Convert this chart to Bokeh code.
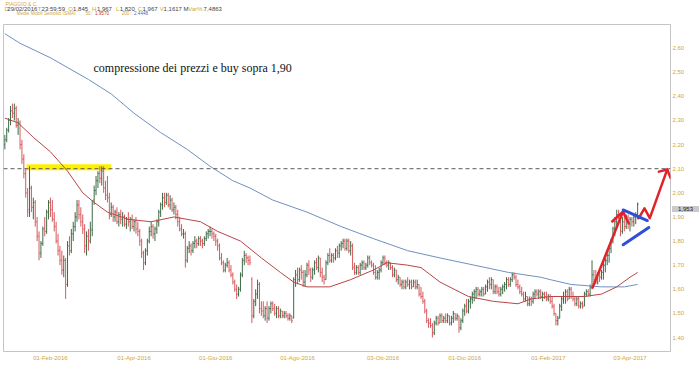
from bokeh.plotting import figure
from bokeh.layouts import column
from bokeh.models import Range1d, FixedTicker, Span, Label, ColumnDataSource
from bokeh.embed import file_html
from bokeh.resources import INLINE

# ---------------- data (daily OHLC) ----------------
opens = [
    2.20, 2.22, 2.26, 2.30, 2.34, 2.33, 2.35, 2.28, 2.29, 2.20,
    2.14, 2.08, 2.00, 1.92, 2.02, 1.94, 1.96, 1.88, 1.82, 1.75,
    1.79, 1.85, 1.84, 1.92, 1.96, 1.93, 1.89, 1.86, 1.80, 1.76,
    1.72, 1.68, 1.72, 1.62, 1.78, 1.76, 1.83, 1.86, 1.90, 1.95,
    1.91, 1.88, 1.85, 1.78, 1.82, 1.80, 1.845, 1.97, 2.01, 2.05,
    2.08, 2.06, 2.09, 2.02, 1.99, 1.98, 1.91, 1.94, 1.90, 1.92,
    1.88, 1.91, 1.89, 1.90, 1.87, 1.89, 1.88, 1.89, 1.86, 1.88,
    1.85, 1.84, 1.80, 1.75, 1.71, 1.76, 1.80, 1.84, 1.86, 1.83,
    1.85, 1.88, 1.92, 1.95, 1.98, 1.96, 1.99, 1.95, 1.97, 1.93,
    1.94, 1.91, 1.88, 1.85, 1.83, 1.83, 1.72, 1.77, 1.78, 1.76,
    1.79, 1.80, 1.79, 1.81, 1.80, 1.79, 1.81, 1.83, 1.84, 1.84,
    1.83, 1.82, 1.80, 1.78, 1.73, 1.71, 1.68, 1.70, 1.71, 1.68,
    1.66, 1.63, 1.60, 1.58, 1.60, 1.66, 1.72, 1.74, 1.73, 1.72,
    1.64, 1.49, 1.55, 1.58, 1.62, 1.52, 1.51, 1.49, 1.52, 1.48,
    1.52, 1.54, 1.52, 1.50, 1.52, 1.49, 1.51, 1.49, 1.50, 1.49,
    1.48, 1.49, 1.48, 1.64, 1.66, 1.64, 1.68, 1.67, 1.63, 1.66,
    1.70, 1.68, 1.65, 1.68, 1.71, 1.69, 1.73, 1.67, 1.65, 1.64,
    1.71, 1.74, 1.72, 1.74, 1.73, 1.76, 1.75, 1.78, 1.79, 1.80,
    1.77, 1.80, 1.76, 1.78, 1.69, 1.67, 1.69, 1.67, 1.70, 1.71,
    1.69, 1.70, 1.73, 1.71, 1.70, 1.67, 1.65, 1.67, 1.68, 1.71,
    1.73, 1.71, 1.70, 1.71, 1.69, 1.66, 1.68, 1.64, 1.65, 1.62,
    1.63, 1.61, 1.63, 1.62, 1.63, 1.61, 1.63, 1.61, 1.62, 1.58,
    1.57, 1.55, 1.51, 1.47, 1.46, 1.45, 1.42, 1.46, 1.48, 1.46,
    1.49, 1.47, 1.48, 1.47, 1.49, 1.46, 1.48, 1.50, 1.48, 1.49,
    1.44, 1.47, 1.51, 1.53, 1.51, 1.55, 1.56, 1.58, 1.59, 1.60,
    1.58, 1.59, 1.60, 1.58, 1.61, 1.63, 1.62, 1.64, 1.59, 1.61,
    1.59, 1.58, 1.60, 1.61, 1.62, 1.64, 1.62, 1.64, 1.66, 1.65,
    1.62, 1.61, 1.59, 1.58, 1.56, 1.57, 1.54, 1.56, 1.55, 1.58,
    1.59, 1.58, 1.59, 1.57, 1.58, 1.57, 1.56, 1.57, 1.55, 1.53,
    1.50, 1.47, 1.48, 1.53, 1.56, 1.57, 1.59, 1.56, 1.60, 1.57,
    1.56, 1.54, 1.56, 1.53, 1.54, 1.53, 1.58, 1.59, 1.58, 1.61,
    1.66, 1.64, 1.63, 1.66, 1.65, 1.67, 1.70, 1.72, 1.74, 1.77,
    1.80, 1.85, 1.88, 1.91, 1.90, 1.84, 1.88, 1.86, 1.90, 1.87,
    1.89, 1.88, 1.90, 1.91,
]
highs = [
    2.24, 2.27, 2.31, 2.36, 2.37, 2.37, 2.36, 2.31, 2.30, 2.22,
    2.16, 2.10, 2.02, 2.11, 2.03, 1.98, 1.97, 1.90, 1.84, 1.80,
    1.86, 1.90, 1.93, 1.97, 1.98, 1.97, 1.92, 1.88, 1.83, 1.78,
    1.76, 1.74, 1.73, 1.80, 1.82, 1.85, 1.88, 1.92, 1.97, 1.97,
    1.94, 1.91, 1.87, 1.84, 1.85, 1.88, 1.967, 2.03, 2.07, 2.09,
    2.11, 2.11, 2.11, 2.05, 2.07, 2.00, 1.96, 1.95, 1.93, 1.94,
    1.92, 1.93, 1.92, 1.91, 1.90, 1.92, 1.90, 1.91, 1.89, 1.90,
    1.88, 1.85, 1.81, 1.76, 1.77, 1.81, 1.86, 1.88, 1.87, 1.86,
    1.89, 1.93, 1.96, 2.00, 2.00, 2.00, 2.00, 1.99, 1.98, 1.96,
    1.95, 1.93, 1.90, 1.87, 1.85, 1.84, 1.78, 1.80, 1.79, 1.80,
    1.82, 1.81, 1.82, 1.82, 1.81, 1.82, 1.84, 1.85, 1.86, 1.85,
    1.84, 1.83, 1.81, 1.79, 1.75, 1.72, 1.71, 1.73, 1.72, 1.70,
    1.67, 1.64, 1.62, 1.61, 1.67, 1.73, 1.76, 1.75, 1.74, 1.74,
    1.65, 1.56, 1.60, 1.64, 1.63, 1.55, 1.55, 1.53, 1.55, 1.53,
    1.55, 1.55, 1.54, 1.53, 1.53, 1.52, 1.51, 1.51, 1.51, 1.50,
    1.50, 1.49, 1.65, 1.68, 1.69, 1.69, 1.70, 1.68, 1.68, 1.71,
    1.72, 1.69, 1.69, 1.72, 1.73, 1.74, 1.73, 1.69, 1.66, 1.72,
    1.75, 1.77, 1.75, 1.75, 1.77, 1.78, 1.79, 1.80, 1.81, 1.81,
    1.81, 1.81, 1.80, 1.79, 1.71, 1.70, 1.70, 1.71, 1.72, 1.72,
    1.71, 1.74, 1.74, 1.72, 1.71, 1.70, 1.68, 1.69, 1.72, 1.74,
    1.74, 1.72, 1.72, 1.71, 1.70, 1.69, 1.68, 1.66, 1.65, 1.64,
    1.64, 1.64, 1.65, 1.64, 1.64, 1.64, 1.64, 1.64, 1.62, 1.61,
    1.59, 1.56, 1.52, 1.48, 1.48, 1.46, 1.47, 1.49, 1.49, 1.50,
    1.50, 1.49, 1.50, 1.50, 1.49, 1.49, 1.51, 1.50, 1.50, 1.49,
    1.48, 1.52, 1.54, 1.56, 1.56, 1.57, 1.59, 1.60, 1.61, 1.61,
    1.60, 1.61, 1.61, 1.62, 1.64, 1.65, 1.65, 1.64, 1.62, 1.62,
    1.61, 1.61, 1.62, 1.63, 1.65, 1.65, 1.65, 1.67, 1.67, 1.66,
    1.64, 1.62, 1.61, 1.59, 1.59, 1.57, 1.57, 1.57, 1.59, 1.60,
    1.60, 1.60, 1.60, 1.59, 1.59, 1.59, 1.58, 1.58, 1.57, 1.54,
    1.50, 1.49, 1.54, 1.57, 1.59, 1.60, 1.60, 1.61, 1.61, 1.59,
    1.57, 1.57, 1.57, 1.55, 1.55, 1.59, 1.60, 1.60, 1.62, 1.72,
    1.68, 1.68, 1.67, 1.68, 1.68, 1.71, 1.73, 1.75, 1.78, 1.81,
    1.86, 1.90, 1.93, 1.93, 1.91, 1.90, 1.92, 1.91, 1.91, 1.90,
    1.90, 1.91, 1.92, 1.96,
]
lows = [
    2.18, 2.21, 2.25, 2.28, 2.31, 2.30, 2.27, 2.24, 2.18, 2.12,
    2.06, 1.98, 1.90, 1.90, 1.92, 1.89, 1.86, 1.80, 1.72, 1.73,
    1.78, 1.82, 1.83, 1.89, 1.90, 1.88, 1.84, 1.79, 1.74, 1.70,
    1.66, 1.65, 1.56, 1.61, 1.74, 1.75, 1.80, 1.84, 1.88, 1.89,
    1.86, 1.83, 1.75, 1.74, 1.76, 1.79, 1.82, 1.95, 1.99, 2.02,
    2.04, 2.03, 2.00, 1.97, 1.96, 1.89, 1.90, 1.88, 1.88, 1.87,
    1.86, 1.87, 1.86, 1.86, 1.85, 1.86, 1.84, 1.85, 1.84, 1.83,
    1.82, 1.78, 1.73, 1.68, 1.70, 1.74, 1.79, 1.82, 1.81, 1.80,
    1.83, 1.86, 1.90, 1.93, 1.94, 1.95, 1.94, 1.93, 1.92, 1.91,
    1.89, 1.86, 1.84, 1.82, 1.81, 1.69, 1.71, 1.75, 1.74, 1.75,
    1.77, 1.77, 1.78, 1.78, 1.77, 1.78, 1.80, 1.81, 1.82, 1.81,
    1.80, 1.78, 1.76, 1.72, 1.70, 1.67, 1.67, 1.69, 1.67, 1.65,
    1.62, 1.59, 1.56, 1.57, 1.59, 1.65, 1.70, 1.71, 1.70, 1.70,
    1.46, 1.48, 1.53, 1.56, 1.50, 1.49, 1.48, 1.47, 1.46, 1.47,
    1.50, 1.51, 1.49, 1.48, 1.48, 1.48, 1.48, 1.48, 1.48, 1.47,
    1.47, 1.46, 1.48, 1.61, 1.62, 1.63, 1.64, 1.61, 1.61, 1.65,
    1.66, 1.63, 1.64, 1.66, 1.68, 1.67, 1.65, 1.63, 1.62, 1.64,
    1.70, 1.71, 1.71, 1.71, 1.72, 1.73, 1.73, 1.76, 1.77, 1.76,
    1.76, 1.75, 1.74, 1.68, 1.66, 1.66, 1.66, 1.66, 1.68, 1.68,
    1.68, 1.69, 1.70, 1.69, 1.66, 1.64, 1.64, 1.64, 1.67, 1.70,
    1.70, 1.69, 1.68, 1.68, 1.65, 1.65, 1.63, 1.62, 1.61, 1.60,
    1.60, 1.60, 1.61, 1.60, 1.60, 1.61, 1.60, 1.60, 1.57, 1.56,
    1.54, 1.50, 1.46, 1.44, 1.44, 1.40, 1.41, 1.45, 1.45, 1.46,
    1.46, 1.46, 1.46, 1.46, 1.45, 1.45, 1.46, 1.47, 1.47, 1.42,
    1.43, 1.46, 1.49, 1.50, 1.50, 1.52, 1.54, 1.55, 1.56, 1.57,
    1.57, 1.57, 1.57, 1.58, 1.59, 1.60, 1.60, 1.58, 1.58, 1.58,
    1.57, 1.57, 1.58, 1.59, 1.60, 1.61, 1.61, 1.63, 1.64, 1.61,
    1.60, 1.58, 1.57, 1.55, 1.55, 1.53, 1.53, 1.53, 1.54, 1.56,
    1.57, 1.56, 1.56, 1.55, 1.56, 1.55, 1.55, 1.54, 1.52, 1.49,
    1.45, 1.45, 1.48, 1.51, 1.54, 1.54, 1.55, 1.56, 1.56, 1.55,
    1.53, 1.53, 1.52, 1.52, 1.52, 1.53, 1.57, 1.57, 1.57, 1.60,
    1.63, 1.62, 1.62, 1.63, 1.64, 1.64, 1.67, 1.70, 1.71, 1.75,
    1.79, 1.82, 1.85, 1.89, 1.82, 1.83, 1.84, 1.85, 1.85, 1.84,
    1.86, 1.86, 1.87, 1.89,
]
closes = [
    2.22, 2.26, 2.30, 2.34, 2.33, 2.35, 2.28, 2.29, 2.20, 2.14,
    2.08, 2.00, 1.93, 2.02, 1.94, 1.96, 1.88, 1.82, 1.75, 1.79,
    1.85, 1.84, 1.92, 1.96, 1.93, 1.89, 1.86, 1.80, 1.76, 1.72,
    1.68, 1.72, 1.62, 1.78, 1.76, 1.83, 1.86, 1.90, 1.95, 1.91,
    1.88, 1.85, 1.78, 1.82, 1.80, 1.85, 1.967, 2.01, 2.05, 2.08,
    2.06, 2.09, 2.02, 1.99, 1.98, 1.91, 1.94, 1.90, 1.92, 1.88,
    1.91, 1.89, 1.90, 1.87, 1.89, 1.88, 1.89, 1.86, 1.88, 1.85,
    1.84, 1.80, 1.75, 1.71, 1.76, 1.80, 1.84, 1.86, 1.83, 1.85,
    1.88, 1.92, 1.95, 1.98, 1.96, 1.99, 1.95, 1.97, 1.93, 1.94,
    1.91, 1.88, 1.85, 1.83, 1.83, 1.72, 1.77, 1.78, 1.76, 1.79,
    1.80, 1.79, 1.81, 1.80, 1.79, 1.81, 1.83, 1.84, 1.84, 1.83,
    1.82, 1.80, 1.78, 1.73, 1.71, 1.68, 1.70, 1.71, 1.68, 1.66,
    1.63, 1.60, 1.58, 1.60, 1.66, 1.72, 1.74, 1.73, 1.72, 1.71,
    1.49, 1.55, 1.58, 1.62, 1.52, 1.51, 1.49, 1.52, 1.48, 1.52,
    1.54, 1.52, 1.50, 1.52, 1.49, 1.51, 1.49, 1.50, 1.49, 1.48,
    1.49, 1.47, 1.64, 1.66, 1.64, 1.68, 1.67, 1.63, 1.66, 1.70,
    1.68, 1.65, 1.68, 1.71, 1.69, 1.73, 1.67, 1.65, 1.64, 1.71,
    1.74, 1.72, 1.74, 1.73, 1.76, 1.75, 1.78, 1.79, 1.80, 1.77,
    1.80, 1.76, 1.78, 1.69, 1.67, 1.69, 1.67, 1.70, 1.71, 1.69,
    1.70, 1.73, 1.71, 1.70, 1.67, 1.65, 1.67, 1.68, 1.71, 1.73,
    1.71, 1.70, 1.71, 1.69, 1.66, 1.68, 1.64, 1.65, 1.62, 1.63,
    1.61, 1.63, 1.62, 1.63, 1.61, 1.63, 1.61, 1.62, 1.58, 1.57,
    1.55, 1.51, 1.47, 1.46, 1.45, 1.42, 1.46, 1.48, 1.46, 1.49,
    1.47, 1.48, 1.47, 1.49, 1.46, 1.48, 1.50, 1.48, 1.49, 1.44,
    1.47, 1.51, 1.53, 1.51, 1.55, 1.56, 1.58, 1.59, 1.60, 1.58,
    1.59, 1.60, 1.58, 1.61, 1.63, 1.62, 1.64, 1.59, 1.61, 1.59,
    1.58, 1.60, 1.61, 1.62, 1.64, 1.62, 1.64, 1.66, 1.65, 1.62,
    1.61, 1.59, 1.58, 1.56, 1.57, 1.54, 1.56, 1.55, 1.58, 1.59,
    1.58, 1.59, 1.57, 1.58, 1.57, 1.56, 1.57, 1.55, 1.53, 1.50,
    1.47, 1.48, 1.53, 1.56, 1.57, 1.59, 1.56, 1.60, 1.57, 1.56,
    1.54, 1.56, 1.53, 1.54, 1.53, 1.58, 1.59, 1.58, 1.61, 1.66,
    1.64, 1.63, 1.66, 1.65, 1.67, 1.70, 1.72, 1.74, 1.77, 1.80,
    1.85, 1.88, 1.91, 1.90, 1.84, 1.88, 1.86, 1.90, 1.87, 1.89,
    1.88, 1.90, 1.91, 1.953,
]

# moving averages (sampled along the drawn curves: bar index, value)
sma50_idx = [0, 7, 15, 24, 33, 41, 47, 54, 65, 77, 89, 103, 112, 124, 135, 145, 152, 159,
             171, 182, 194, 201, 212, 219, 229, 244, 257, 270, 277, 287, 305, 314, 322, 329, 333]
sma50_val = [2.31, 2.29, 2.23, 2.17, 2.09, 2.00, 1.96, 1.92, 1.89, 1.88, 1.90, 1.88, 1.84, 1.80,
             1.73, 1.67, 1.63, 1.61, 1.61, 1.64, 1.68, 1.71, 1.70, 1.69, 1.63, 1.57, 1.55, 1.54,
             1.56, 1.57, 1.57, 1.58, 1.61, 1.65, 1.67]
sma200_idx = [0, 8, 24, 44, 56, 68, 82, 96, 108, 120, 129, 141, 159, 177, 194, 212, 229, 247,
              265, 282, 287, 298, 314, 326, 333]
sma200_val = [2.66, 2.62, 2.56, 2.47, 2.41, 2.33, 2.25, 2.18, 2.11, 2.05, 2.02, 1.97, 1.92, 1.86,
              1.81, 1.76, 1.73, 1.70, 1.67, 1.65, 1.64, 1.62, 1.61, 1.61, 1.62]

x_tick_idx = [24, 68, 111, 154, 199, 242, 286, 329]
x_tick_labels = ["01-Feb-2016", "01-Apr-2016", "01-Giu-2016", "01-Ago-2016",
                 "03-Ott-2016", "01-Dic-2016", "01-Feb-2017", "03-Apr-2017"]
y_ticks = [1.4, 1.5, 1.6, 1.7, 1.8, 1.9, 2.0, 2.1, 2.2, 2.3, 2.4, 2.5, 2.6]
y_tick_labels = ["1,40", "1,50", "1,60", "1,70", "1,80", "1,90", "2,00", "2,10",
                 "2,20", "2,30", "2,40", "2,50", "2,60"]

resistance_level = 2.10
last_price = 1.953
last_price_text = "1,953"
highlight_x = [11.4, 56.0]
highlight_y = [2.094, 2.119]
red_paths_x = [[309.3, 325.3], [319.6, 325.3, 328.3],
               [333.6, 336.6, 339.4, 348.6], [344.2, 348.6, 350.3]]
red_paths_y = [[1.607, 1.922], [1.881, 1.922, 1.874],
               [1.895, 1.936, 1.895, 2.097], [2.088, 2.097, 2.062]]
blue_paths_x = [[325.4, 338.1], [325.4, 338.9]]
blue_paths_y = [[1.929, 1.885], [1.785, 1.856]]

# ---------------- layout helpers ----------------
W, H = 700, 366
HEAD_H = 15
X_LO, X_HI = -0.7, 350.3
Y_LO, Y_HI = 1.342, 2.698
PAGE_L, PAGE_R, PAGE_T, PAGE_B = 3, 670, 24, 351


def dx(px):
    return X_LO + (px - PAGE_L) * (X_HI - X_LO) / (PAGE_R - PAGE_L)


def dy(py):
    return Y_HI - (py - PAGE_T) * (Y_HI - Y_LO) / (PAGE_B - PAGE_T)


UP = "#3d6b47"
DOWN = "#d8585c"
GOLD = "#cfa63a"
DARK = "#444444"

# ---------------- header strip (its own small figure) ----------------
head = figure(width=W, height=HEAD_H, output_backend="svg", toolbar_location=None,
              title=None, x_range=Range1d(0, W), y_range=Range1d(HEAD_H, 0),
              x_axis_type=None, y_axis_type=None, min_border=0,
              outline_line_color=None, background_fill_color="white",
              border_fill_color="white")
head.grid.visible = False
header = [
    ("PIAGGIO & C.", 2, 3.0, "5px", "#e0a23a"),
    ("D", 1, 8.3, "6px", GOLD), ("29/02/2016", 4, 8.3, "6px", DARK),
    ("T", 36, 8.3, "6px", GOLD), ("23:59:59", 40, 8.3, "6px", DARK),
    ("O", 68, 8.3, "6px", GOLD), ("1,845", 73, 8.3, "6px", DARK),
    ("H", 93, 8.3, "6px", GOLD), ("1,967", 98, 8.3, "6px", DARK),
    ("L", 118, 8.3, "6px", GOLD), ("1,820", 122, 8.3, "6px", DARK),
    ("C", 141, 8.3, "6px", GOLD), ("1,967", 146, 8.3, "6px", DARK),
    ("V", 164, 8.3, "6px", GOLD), ("1,1617 M", 168, 8.3, "6px", DARK),
    ("Var%", 194, 8.3, "6px", GOLD), ("7,4863", 210, 8.3, "6px", DARK),
    ("Medie Mobili Semplici (SMA)", 14, 12.8, "4.6px", GOLD),
    ("50", 86, 12.8, "4.6px", GOLD), (":", 92, 12.8, "4.6px", DARK),
    ("1,9570", 96, 12.8, "4.6px", "#c0392b"),
    ("200", 124, 12.8, "4.6px", GOLD), (":", 133, 12.8, "4.6px", DARK),
    ("2,4448", 137, 12.8, "4.6px", "#4a6fb5"),
]
for txt, hx, hy, fs, col in header:
    head.add_layout(Label(x=hx, y=hy, text=txt, text_font="Liberation Sans",
                          text_font_size=fs, text_color=col, text_align="left",
                          text_baseline="middle"))

# ---------------- main chart ----------------
p = figure(width=W, height=H - HEAD_H, output_backend="svg", toolbar_location=None,
           title=None, x_range=Range1d(X_LO, X_HI), y_range=Range1d(Y_LO, Y_HI),
           y_axis_location="right", min_border_left=PAGE_L, min_border_right=W - PAGE_R,
           min_border_top=PAGE_T - HEAD_H, min_border_bottom=H - PAGE_B,
           background_fill_color="white", border_fill_color="white",
           outline_line_color="#c4c4c4", outline_line_width=1)
p.grid.visible = False

# axes
p.yaxis.ticker = FixedTicker(ticks=y_ticks)
p.yaxis.major_label_overrides = dict(zip(y_ticks, y_tick_labels))
p.xaxis.ticker = FixedTicker(ticks=x_tick_idx)
p.xaxis.major_label_overrides = dict(zip(x_tick_idx, x_tick_labels))
for ax in (p.xaxis, p.yaxis):
    ax.axis_line_color = None
    ax.major_tick_line_color = None
    ax.minor_tick_line_color = None
    ax.major_tick_out = 0
    ax.major_tick_in = 0
    ax.minor_tick_out = 0
    ax.minor_tick_in = 0
    ax.major_label_text_color = GOLD
    ax.major_label_text_font = "Liberation Sans"
    ax.major_label_text_font_size = "6px"
p.yaxis.major_label_standoff = 2
p.xaxis.major_label_standoff = 3

# highlight box
p.quad(left=[highlight_x[0]], right=[highlight_x[1]], bottom=[highlight_y[0]],
       top=[highlight_y[1]], fill_color="#fff000", line_color=None)

# OHLC bars
idx = list(range(len(closes)))
src = ColumnDataSource(dict(
    x=idx,
    xl=[i - 0.45 for i in idx],
    xr=[i + 0.45 for i in idx],
    o=opens, h=highs, l=lows, c=closes,
    col=[UP if c >= o else DOWN for o, c in zip(opens, closes)],
))
p.segment(x0="x", y0="l", x1="x", y1="h", color="col", line_width=1, source=src)
p.segment(x0="xl", y0="o", x1="x", y1="o", color="col", line_width=1, source=src)
p.segment(x0="x", y0="c", x1="xr", y1="c", color="col", line_width=1, source=src)

# moving averages
p.line(sma200_idx, sma200_val, line_color="#7090c0", line_width=1)
p.line(sma50_idx, sma50_val, line_color="#b94545", line_width=1)

# resistance line
p.add_layout(Span(location=resistance_level, dimension="width", line_color="#5a5a5a",
                  line_dash="4 3", line_width=1))

# hand-drawn annotations
p.multi_line(red_paths_x, red_paths_y, line_color="#e0232a", line_width=2.5,
             line_cap="round", line_join="round")
p.multi_line(blue_paths_x, blue_paths_y, line_color="#2e4fd8", line_width=3,
             line_cap="round")

# main note
p.add_layout(Label(x=dx(93), y=dy(67), text="compressione dei prezzi e buy sopra 1,90",
                   text_font="Liberation Serif", text_font_size="12px",
                   text_color="#111111", text_align="left", text_baseline="middle"))

# last price tag: lives in the top side panel (so it is not clipped to the frame),
# but is positioned in data units next to the price scale
p.add_layout(Label(x=dx(685), y=last_price - 0.02, text=last_price_text,
                   text_font="Liberation Sans", text_font_size="6px",
                   text_color="#222222", text_align="center", text_baseline="middle",
                   background_fill_color="#c9c9c9", background_fill_alpha=1.0,
                   padding=(6, 1)), "above")

open("out.html", "w").write(file_html(column(head, p), INLINE))
